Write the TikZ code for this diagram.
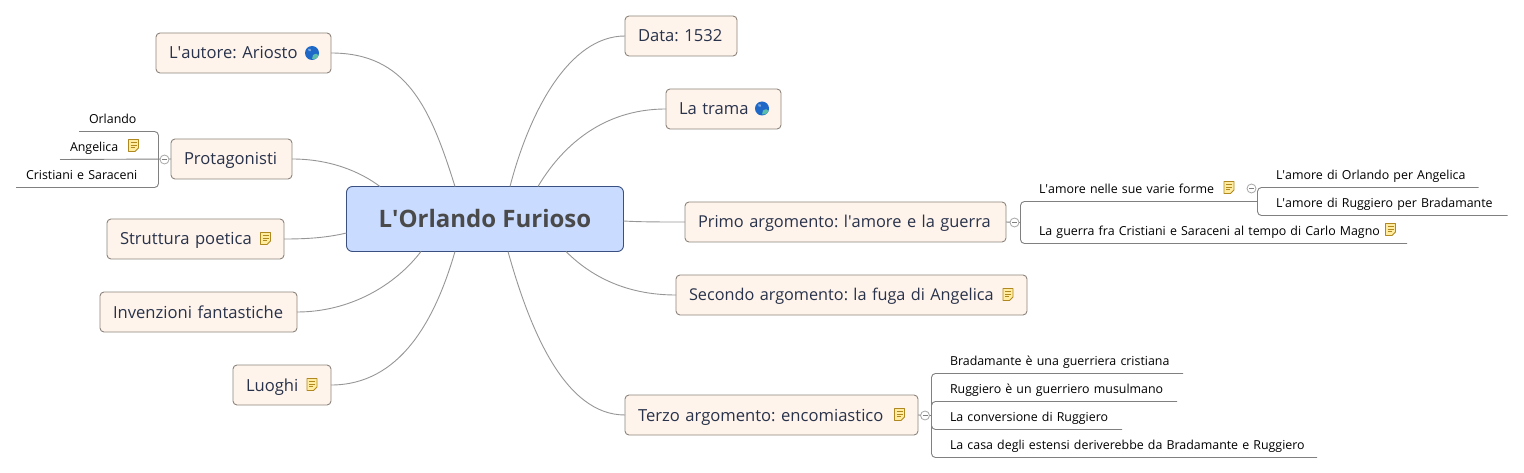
\documentclass[tikz,border=0pt]{standalone}
\usepackage{fontspec}
\setmainfont{Open Sans}
\definecolor{topicfill}{RGB}{255,244,235}
\definecolor{topicline}{RGB}{140,132,124}
\definecolor{topictext}{RGB}{40,50,75}
\definecolor{rootfill}{RGB}{201,220,255}
\definecolor{rootline}{RGB}{58,80,128}
\definecolor{roottext}{RGB}{74,74,74}
\definecolor{curveline}{RGB}{150,150,150}
\definecolor{subline}{RGB}{128,128,128}
\definecolor{notefill}{RGB}{255,236,160}
\definecolor{noteline}{RGB}{176,136,32}
\definecolor{globeblue}{RGB}{30,105,200}
\definecolor{globegreen}{RGB}{90,190,170}
\tikzset{
  noteicon/.pic={
    \draw[noteline,fill=notefill,line width=0.9pt,line join=round] (-5,-6) -- (5,-6) -- (5,2.5) -- (1.5,6) -- (-5,6) -- cycle;
    \draw[noteline,line width=0.8pt] (-3,-3) -- (3,-3) (-3,-0.5) -- (3,-0.5) (-3,2) -- (1,2);
  },
  globeicon/.pic={
    \fill[globeblue] (0,0) circle (7);
    \fill[globegreen] (1,2) .. controls (4,0) and (6,1) .. (6.5,2.5) .. controls (5,6) and (2,6.5) .. (0,6) -- cycle;
    \fill[globeblue!60!white] (-4,-4) .. controls (-2,-5) and (0,-4) .. (-1,-2) .. controls (-3,-1) and (-4,-2) .. (-4,-4);
  }
}

\begin{document}
\frenchspacing
\begin{tikzpicture}[x=1pt,y=-1pt,font=\fontsize{12.4}{14}\selectfont]
 \tikzstyle{root}=[draw=rootline,fill=rootfill,text=roottext,rounded corners=6,line width=0.9pt,outer sep=0,inner xsep=0,inner ysep=0,minimum width=277,minimum height=65,text height=20,text depth=2,font=\fontsize{24}{28}\selectfont\bfseries]
 \tikzstyle{topic}=[draw=topicline,fill=topicfill,text=topictext,rounded corners=4,line width=0.9pt,outer sep=0,inner xsep=0,inner ysep=0,minimum height=40,text height=14,text depth=2,align=left,anchor=west,text width=#1,execute at begin node=\hspace*{13pt},font=\fontsize{16.6}{20}\selectfont]
 \tikzstyle{subr}=[inner sep=0,outer sep=0,anchor=south west,text height=10,text depth=8,align=left,text width=#1,execute at begin node=\hspace*{18.5pt}]
 \tikzstyle{subl}=[inner sep=0,outer sep=0,anchor=south west,text height=10,text depth=8,align=left,text width=#1,execute at begin node=\hspace*{10pt}]
 \tikzstyle{curve}=[draw=curveline,line width=0.9pt]
 \tikzstyle{branch}=[draw=subline,line width=0.9pt,rounded corners=4]
 \tikzstyle{handle}=[circle,draw=subline!70,fill=white,line width=0.8pt,minimum size=9,inner sep=0,text=subline]

   \node[root] (furioso) at (485,219) {L\textquotesingle Orlando Furioso};

   % left side
   \node[topic=175] (autore) at (156,53) {L\textquotesingle autore: Ariosto};
   \node[topic=121] (protag) at (171,159) {Protagonisti};
   \node[topic=177] (struttura) at (107,239) {Struttura poetica};
   \node[topic=197] (invenzioni) at (100,312) {Invenzioni fantastiche};
   \node[topic=98] (luoghi) at (233,385) {Luoghi};

   % right side
   \node[topic=112] (data) at (625,36) {Data: 1532};
   \node[topic=115] (trama) at (666,109) {La trama};
   \node[topic=321,font=\fontsize{16.4}{20}\selectfont] (primo) at (685,222) {Primo argomento: l\textquotesingle amore e la guerra};
   \node[topic=351,font=\fontsize{16.25}{20}\selectfont] (secondo) at (676,295) {Secondo argomento: la fuga di Angelica};
   \node[topic=293] (terzo) at (625,415) {Terzo argomento: encomiastico};

   \coordinate (r1) at (455,186.5);
   \coordinate (r2) at (380,186.5);
   \coordinate (r3) at (346.5,233);
   \coordinate (r4) at (421,251.5);
   \coordinate (r5) at (455,251.5);
   \coordinate (r6) at (510,186.5);
   \coordinate (r7) at (538,186.5);
   \coordinate (r8) at (623.5,221);
   \coordinate (r9) at (566,251.5);
   \coordinate (r10) at (508,251.5);

   \path[curve]
   (autore.east) .. controls +(75,0) and +(-25,-80) .. (r1)
   (protag.east) .. controls +(38,0) and +(-20,-15) .. (r2)
   (struttura.east) .. controls +(21,0) and +(-21,5) .. (r3)
   (invenzioni.east) .. controls +(53,0) and +(-26,34) .. (r4)
   (luoghi.east) .. controls +(69,0) and +(-20,69) .. (r5)
   (data.west) .. controls +(-55,0) and +(20,-77) .. (r6)
   (trama.west) .. controls +(-66,0) and +(22,-37) .. (r7)
   (primo.west) .. controls +(-25,0) and +(17,1) .. (r8)
   (secondo.west) .. controls +(-51,0) and +(24,24) .. (r9)
   (terzo.west) .. controls +(-60,0) and +(22,79) .. (r10);

   % protagonisti
   \node[subl=79.5] (orlando) at (79,131.5) {Orlando};
   \node[subl=98.5] (angelica) at (60,159.5) {Angelica};
   \node[subl=142.5] (cristiani) at (16,187.5) {Cristiani e Saraceni};
   \coordinate (hp) at (158.5,159.5);

   % primo argomento
   \node[subr=237] (amore) at (1020.5,201.5) {L\textquotesingle amore nelle sue varie forme};
   \node[subr=386.5] (guerra) at (1020.5,243.5) {La guerra fra Cristiani e Saraceni al tempo di Carlo Magno};
   \node[subr=221] (amoreorl) at (1257.5,187.5) {L\textquotesingle amore di Orlando per Angelica};
   \node[subr=250] (amorerug) at (1257.5,215.5) {L\textquotesingle amore di Ruggiero per Bradamante};
   \coordinate (ha) at (1020.5,222.5);
   \coordinate (hb) at (1257.5,201.5);

   % terzo argomento
   \node[subr=251.5] (brada) at (931.5,373.5) {Bradamante è una guerriera cristiana};
   \node[subr=245.5] (rugg) at (931.5,401.5) {Ruggiero è un guerriero musulmano};
   \node[subr=190.5] (conv) at (931.5,429.5) {La conversione di Ruggiero};
   \node[subr=385.5] (casa) at (931.5,457.5) {La casa degli estensi deriverebbe da Bradamante e Ruggiero};
   \coordinate (ht) at (931.5,415.5);

   \path[branch]
   (orlando.south west) -| (hp)
   (cristiani.south west) -| (hp)
   (angelica.south west) -- (protag.west)
   (primo.east) -- (ha)
   (amore.south east) -| (ha)
   (guerra.south east) -| (ha)
   (amoreorl.south east) -| (hb)
   (amorerug.south east) -| (hb)
   (amore.south east) -- (hb)
   (terzo.east) -- (ht)
   (brada.south east) -| (ht)
   (rugg.south east) -| (ht)
   (conv.south east) -| (ht)
   (casa.south east) -| (ht);

   \node[handle] (hp1) at (164.5,159.5) {\rule[-0.35pt]{5pt}{0.7pt}};
   \node[handle] (ha1) at (1014.5,222.5) {\rule[-0.35pt]{5pt}{0.7pt}};
   \node[handle] (hb1) at (1251.5,188.5) {\rule[-0.35pt]{5pt}{0.7pt}};
   \node[handle] (ht1) at (925,415.5) {\rule[-0.35pt]{5pt}{0.7pt}};

   \pic at (312,53) {globeicon};
   \pic at (762,108.5) {globeicon};
   \pic at (133.5,145.5) {noteicon};
   \pic at (265.5,238.5) {noteicon};
   \pic at (312,384.5) {noteicon};
   \pic at (1229,187.5) {noteicon};
   \pic at (1390.5,229.5) {noteicon};
   \pic at (1008,294.5) {noteicon};
   \pic at (899.5,414.5) {noteicon};

   \useasboundingbox (0,0) rectangle (1524,473);
\end{tikzpicture}
\end{document}
